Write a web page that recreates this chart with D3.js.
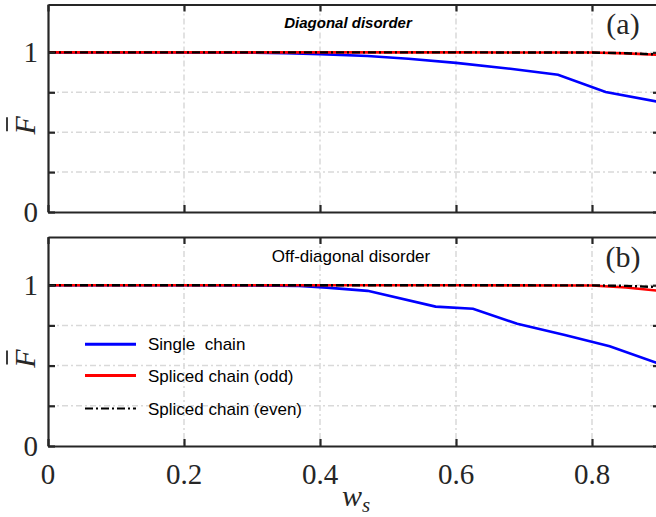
<!DOCTYPE html>
<html>
<head>
<meta charset="utf-8">
<script src="https://cdn.jsdelivr.net/npm/d3@7"></script>
<style>
  body { margin: 0; background: #fff; }
  svg { display: block; }
  .serif { font-family: "Liberation Serif", "DejaVu Serif", serif; }
  .sans { font-family: "Liberation Sans", Arial, sans-serif; }
</style>
</head>
<body>
<svg id="chart" width="656" height="517"></svg>
<script>
'use strict';

// ---- data ----
var xTicks = [0, 0.2, 0.4, 0.6, 0.8];
var xTickLabels = ['0', '0.2', '0.4', '0.6', '0.8'];
var yTicks = [0, 0.25, 0.5, 0.75, 1];
var yTickLabels = {0: '0', 1: '1'};

// (a) diagonal disorder
var aSingleX = [0, 0.1, 0.2, 0.3, 0.35, 0.4, 0.47, 0.53, 0.6, 0.68, 0.75, 0.82, 0.9];
var aSingleY = [1, 1, 1, 0.998, 0.995, 0.989, 0.977, 0.96, 0.934, 0.897, 0.86, 0.752, 0.688];
var aOddX = [0, 0.2, 0.4, 0.6, 0.8, 0.85, 0.9];
var aOddY = [1, 1, 1, 1, 0.999, 0.994, 0.984];
var aEvenX = [0, 0.2, 0.4, 0.6, 0.8, 0.85, 0.9];
var aEvenY = [1, 1, 1, 1, 0.999, 0.995, 0.986];

// (b) off-diagonal disorder
var bSingleX = [0, 0.1, 0.2, 0.3, 0.37, 0.41, 0.47, 0.57, 0.625, 0.69, 0.76, 0.826, 0.9];
var bSingleY = [1, 1, 1, 0.999, 0.996, 0.985, 0.965, 0.867, 0.854, 0.76, 0.69, 0.62, 0.51];
var bOddX = [0, 0.2, 0.4, 0.6, 0.8, 0.85, 0.9];
var bOddY = [1, 1, 1, 1, 0.998, 0.986, 0.965];
var bEvenX = [0, 0.2, 0.4, 0.6, 0.8, 0.85, 0.9];
var bEvenY = [1, 1, 1, 1, 0.999, 0.996, 0.988];

var legendLabels = ['Single  chain', 'Spliced chain (odd)', 'Spliced chain (even)'];

// ---- layout ----
var svg = d3.select('#chart');
var axisColor = '#262626';
var x = d3.scaleLinear().domain([0, 0.9]).range([48, 660]);

var panels = [
  { top: 4.5, bottom: 212, tag: '(a)', title: 'Diagonal disorder', bold: true,
    series: [[aSingleX, aSingleY], [aOddX, aOddY], [aEvenX, aEvenY]] },
  { top: 237, bottom: 446, tag: '(b)', title: 'Off-diagonal disorder', bold: false,
    series: [[bSingleX, bSingleY], [bOddX, bOddY], [bEvenX, bEvenY]], legend: true }
];

var lineStyles = [
  { color: '#0000ff', width: 2.6, dash: null },
  { color: '#ff0000', width: 2.6, dash: null },
  { color: '#000000', width: 2.4, dash: '8,3,2,3' }
];

panels.forEach(function (p, pi) {
  var y = d3.scaleLinear().domain([0, 1.3]).range([p.bottom, p.top]);
  var g = svg.append('g');
  var x0 = x.range()[0], x1 = x.range()[1];

  // grid
  g.selectAll('.vgrid').data(xTicks.slice(1)).enter().append('line')
    .attr('x1', d => x(d)).attr('x2', d => x(d))
    .attr('y1', p.top).attr('y2', p.bottom)
    .attr('stroke', '#d9d9d9').attr('stroke-width', 1.5).attr('stroke-dasharray', '6,3,2,3');
  g.selectAll('.hgrid').data(yTicks.slice(1)).enter().append('line')
    .attr('x1', x0).attr('x2', x1)
    .attr('y1', d => y(d)).attr('y2', d => y(d))
    .attr('stroke', '#d9d9d9').attr('stroke-width', 1.5).attr('stroke-dasharray', '6,3,2,3');

  // curves
  var clipId = 'clip' + pi;
  svg.append('clipPath').attr('id', clipId).append('rect')
    .attr('x', x0).attr('y', p.top).attr('width', x1 - x0).attr('height', p.bottom - p.top);
  var line = d3.line().x(d => x(d[0])).y(d => y(d[1]));
  p.series.forEach(function (s, si) {
    var pts = d3.zip(s[0], s[1]);
    var st = lineStyles[si];
    g.append('path').datum(pts)
      .attr('clip-path', 'url(#' + clipId + ')')
      .attr('d', line)
      .attr('fill', 'none')
      .attr('stroke', st.color)
      .attr('stroke-width', st.width)
      .attr('stroke-dasharray', st.dash);
  });

  // axes box with mirrored inward ticks
  var tl = 7;
  g.append('g').attr('transform', 'translate(0,' + p.bottom + ')')
    .call(d3.axisBottom(x).tickValues(xTicks).tickSizeInner(-tl).tickSizeOuter(0).tickFormat(''));
  g.append('g').attr('transform', 'translate(0,' + p.top + ')')
    .call(d3.axisTop(x).tickValues(xTicks).tickSizeInner(-tl).tickSizeOuter(0).tickFormat(''));
  g.append('g').attr('transform', 'translate(' + x0 + ',0)')
    .call(d3.axisLeft(y).tickValues(yTicks).tickSizeInner(-tl).tickSizeOuter(0).tickFormat(''));
  g.append('g').attr('transform', 'translate(' + x1 + ',0)')
    .call(d3.axisRight(y).tickValues(yTicks).tickSizeInner(-tl).tickSizeOuter(0).tickFormat(''));
  g.selectAll('.domain, .tick line')
    .attr('stroke', axisColor).attr('stroke-width', 2.2);

  // y tick labels
  g.selectAll('.ylab').data(yTicks.filter(d => yTickLabels[d] !== undefined)).enter().append('text')
    .attr('class', 'serif')
    .attr('x', 38).attr('y', d => y(d) + 10)
    .attr('text-anchor', 'end')
    .attr('font-size', 29).attr('fill', axisColor)
    .text(d => yTickLabels[d]);

  // y axis label: F with bar
  var cy = (p.top + p.bottom) / 2 + 17;
  var yl = g.append('g').attr('transform', 'translate(35,' + cy + ') rotate(-90)');
  yl.append('text').attr('class', 'serif')
    .attr('text-anchor', 'middle').attr('font-style', 'italic')
    .attr('font-size', 30).attr('fill', axisColor).text('F');
  yl.append('line').attr('x1', -6).attr('x2', 8).attr('y1', -28).attr('y2', -28)
    .attr('stroke', axisColor).attr('stroke-width', 1.8);

  // panel title and tag
  g.append('text').attr('class', 'sans')
    .attr('x', p.bold ? 348 : 351).attr('y', p.top + (p.bold ? 23 : 25))
    .attr('text-anchor', 'middle')
    .attr('font-size', p.bold ? 15 : 17)
    .attr('font-weight', p.bold ? 'bold' : 'normal')
    .attr('font-style', p.bold ? 'italic' : 'normal')
    .attr('fill', '#000').text(p.title);
  g.append('text').attr('class', 'serif')
    .attr('x', 623).attr('y', p.top + 29.5)
    .attr('text-anchor', 'middle').attr('font-size', 30)
    .attr('fill', axisColor).text(p.tag);

  if (p.legend) {
    var rowsY = [344.3, 375.5, 408.5];
    legendLabels.forEach(function (lab, i) {
      var st = lineStyles[i];
      g.append('line').attr('x1', 85).attr('x2', 136)
        .attr('y1', rowsY[i]).attr('y2', rowsY[i])
        .attr('stroke', st.color).attr('stroke-width', i < 2 ? 3 : 2)
        .attr('stroke-dasharray', st.dash);
      g.append('text').attr('class', 'sans')
        .attr('x', 148).attr('y', rowsY[i] + 6)
        .attr('font-size', 17).attr('fill', '#000')
        .style('white-space', 'pre')
        .text(lab);
    });
  }

  // x tick labels only on the bottom panel
  if (pi === panels.length - 1) {
    g.selectAll('.xlab').data(xTicks).enter().append('text')
      .attr('class', 'serif')
      .attr('x', d => x(d)).attr('y', 484)
      .attr('text-anchor', 'middle')
      .attr('font-size', 29).attr('fill', axisColor)
      .text((d, i) => xTickLabels[i]);
    var xl = g.append('text').attr('class', 'serif')
      .attr('x', 356).attr('y', 506)
      .attr('text-anchor', 'middle').attr('font-style', 'italic')
      .attr('font-size', 30).attr('fill', axisColor);
    xl.append('tspan').text('w');
    xl.append('tspan').attr('font-size', 21).attr('dy', 6).text('s');
  }
});
</script>
</body>
</html>
